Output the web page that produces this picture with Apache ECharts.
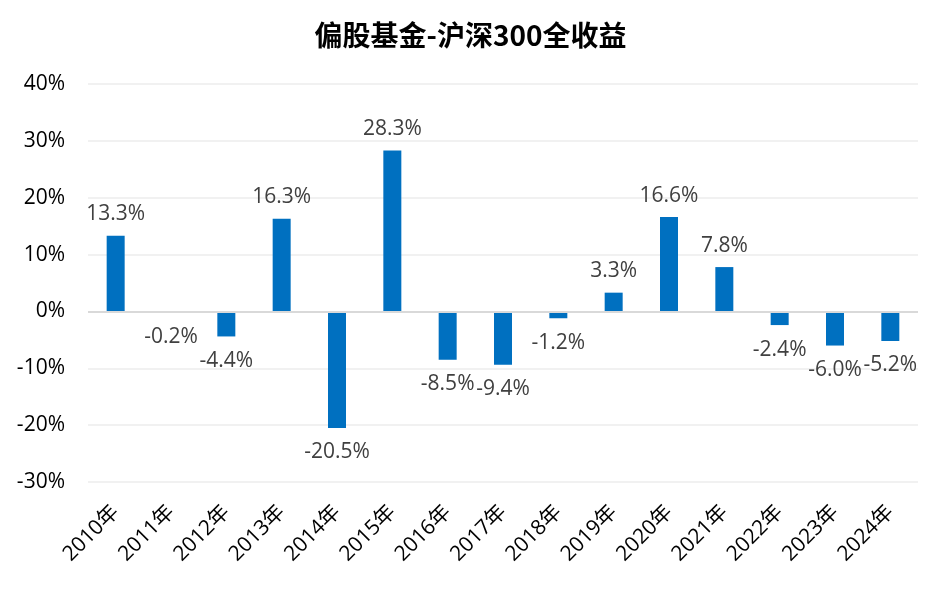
<!DOCTYPE html>
<html><head><meta charset="utf-8">
<script src="https://cdn.jsdelivr.net/npm/echarts@6/dist/echarts.min.js"></script>
<style>html,body{margin:0;padding:0;background:#fff}#c{width:941px;height:589px}</style>
</head><body><div id="c"></div>
<script>
const categories = ['2010年','2011年','2012年','2013年','2014年','2015年','2016年','2017年','2018年','2019年','2020年','2021年','2022年','2023年','2024年'];
const values = [13.3, -0.2, -4.4, 16.3, -20.5, 28.3, -8.5, -9.4, -1.2, 3.3, 16.6, 7.8, -2.4, -6.0, -5.2];
const titleText = '偏股基金-沪深300全收益';
const yMin = -30, yMax = 40, yStep = 10;

const font = '"Open Sans","Noto Sans CJK SC",sans-serif';
const chart = echarts.init(document.getElementById('c'));
chart.setOption({
  animation: false,
  title: { text: titleText, left: 'center', top: 16,
    textStyle: { fontFamily: '"Noto Sans CJK SC",sans-serif', fontSize: 28, fontWeight: 'bold', color: '#000' } },
  grid: { left: 88, right: 23, top: 84, bottom: 107 },
  xAxis: {
    type: 'category', data: categories,
    axisLine: { show: false, onZero: false },
    axisTick: { show: false },
    axisLabel: { rotate: 45, fontSize: 21, color: '#000', fontFamily: font, margin: 27, interval: 0 }
  },
  yAxis: {
    type: 'value', min: yMin, max: yMax, interval: yStep,
    axisLabel: { formatter: v => v + '%', fontSize: 21, color: '#000', fontFamily: font, margin: 23 },
    splitLine: { lineStyle: { color: '#ececec', width: 1.5 } },
    axisLine: { show: false }, axisTick: { show: false }
  },
  series: [{
    type: 'bar', barWidth: 18,
    data: values.map(v => ({ value: v, label: { position: v < 0 ? 'bottom' : 'top', distance: v < 0 ? 14 : 11 } })),
    itemStyle: { color: '#0070C0' },
    label: {
      show: true, fontSize: 21, color: '#404040', fontFamily: font,
      formatter: p => p.value.toFixed(1) + '%'
    },
    markLine: {
      silent: true, symbol: 'none', label: { show: false },
      lineStyle: { color: '#d9d9d9', width: 2, type: 'solid' },
      data: [{ yAxis: 0 }]
    }
  }]
});
</script></body></html>
